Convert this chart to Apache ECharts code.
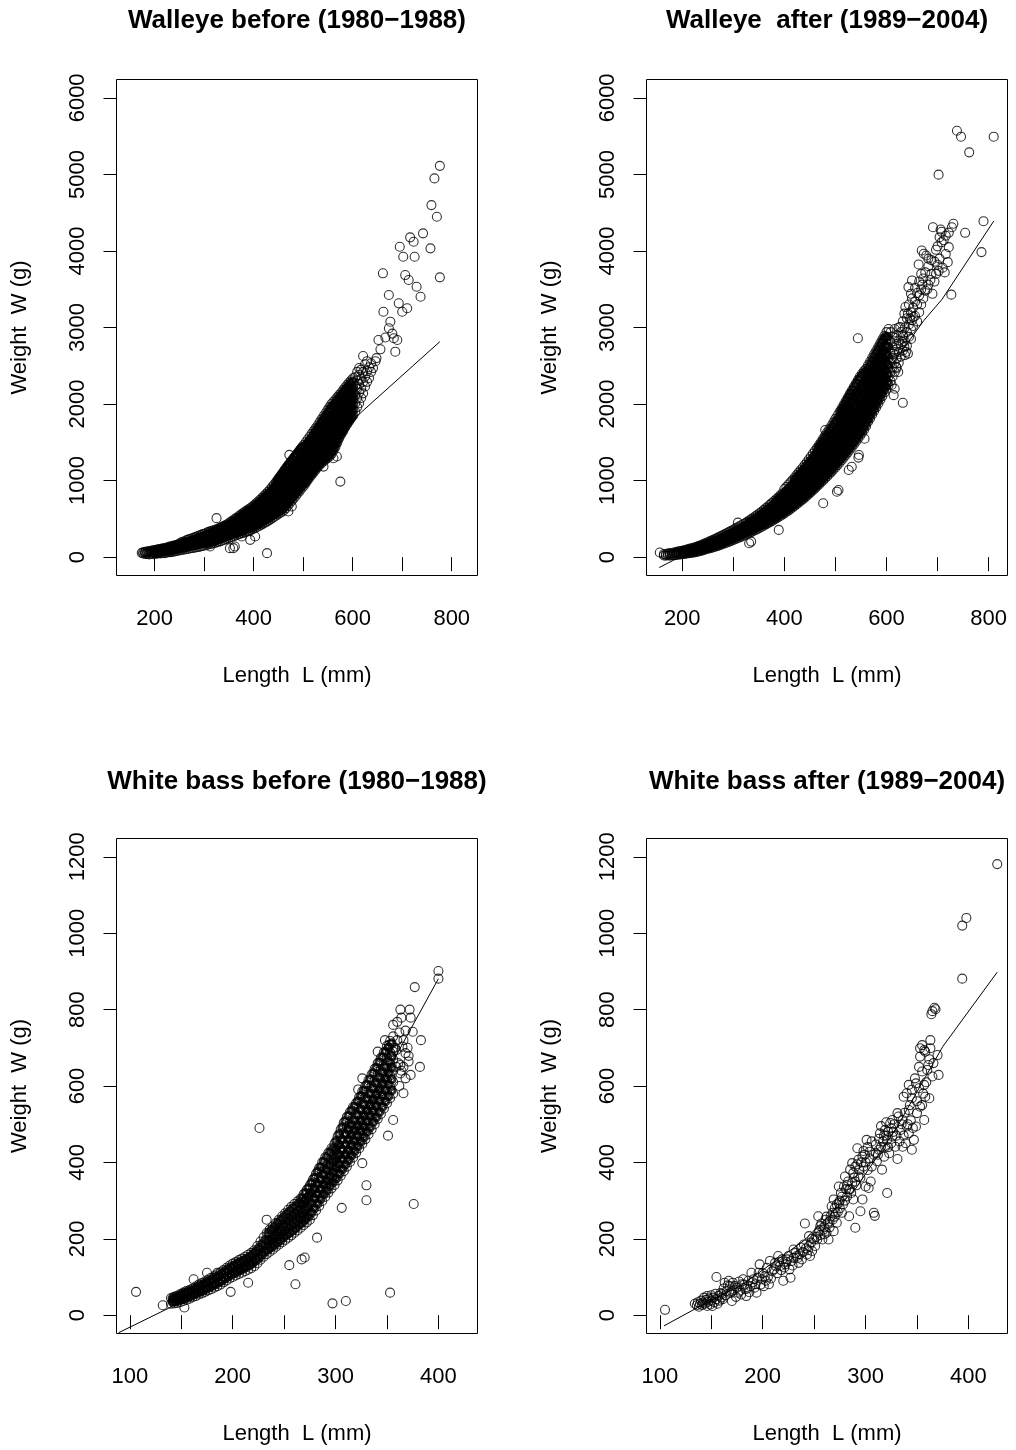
<!DOCTYPE html>
<html lang="en">
<head>
<meta charset="UTF-8">
<title>Length-weight: walleye and white bass</title>
<script src="https://cdn.jsdelivr.net/npm/echarts@6/dist/echarts.min.js"></script>
<style>html,body{margin:0;padding:0;background:#fff;}</style>
</head>
<body>
<div id="chart" style="width:1016px;height:1450px;"></div>
<script>
// each row: [length mm, weight g, weight g, ...]  (fish measured at about that length)
var walleyeBefore = [
  [174,56],[177,48,64],[181,42,60,70],[185,40,56,72],[189,36,58,78],[193,42,66,84],[197,38,60,88],
  [201,46,70,92],[205,44,74,98],[209,50,78,104],[213,48,84,110],[217,54,88,114],[221,52,92,118],
  [225,60,98,126],[229,64,104,134],[233,66,110,140],[237,72,116,148],[241,74,120,154],[245,80,128,162],
  [249,86,136,172],[253,90,142,190],[257,96,150,200],[261,100,156,208],[265,106,166,222],[269,110,172,232],
  [273,116,180,240],[277,120,190,250],[281,124,196,258],[285,130,204,268],[289,134,212,280],[293,140,220,290],
  [297,146,230,300],[301,152,200,254,306],[305,160,212,266,318],[309,166,222,276,330],[313,172,232,288,338],
  [317,178,240,298,346],[321,184,250,306,352],[325,192,258,316,362],[329,200,270,330,372],[333,208,280,340,386],
  [337,218,292,352,398],[341,228,302,366,408],[345,238,316,380,424],[349,248,328,394,440],[353,258,340,410,458],
  [357,266,350,424,476],[361,276,330,384,440,494],[365,286,342,398,456,512],[369,296,354,414,472,530],
  [373,306,366,428,488,550],[377,314,376,442,504,568],[381,324,388,456,520,586],[385,334,400,468,536,604],
  [389,342,410,480,552,620],[393,350,420,494,566,638],[397,362,434,508,582,656],
  [401,376,440,506,566,624,680],[405,388,456,522,584,646,704],[409,400,470,536,600,666,726],
  [413,414,484,552,620,688,750],[417,428,500,570,640,708,774],[421,444,516,590,662,732,800],
  [425,458,532,606,680,754,826],[429,474,550,626,702,778,854],[433,490,566,644,722,802,884],
  [437,506,584,664,744,828,914],[441,524,602,684,768,850,948],[445,540,620,704,788,874,920,982],
  [449,558,640,724,810,896,960,1018],[453,576,660,746,832,918,990,1052],[457,592,680,766,854,942,1020,1088],
  [461,610,698,788,876,966,1050,1124],[465,640,726,812,900,986,1074,1160],[469,672,758,842,930,1016,1104,1196],
  [473,704,788,874,960,1046,1134,1230],[477,736,820,904,990,1076,1164,1264],[481,768,850,934,1020,1106,1194,1296],
  [485,800,884,966,1050,1138,1226,1330],[489,834,916,1000,1084,1170,1258,1364],[493,866,950,1034,1118,1204,1290,1398],
  [497,900,982,1066,1150,1236,1324,1430],
  [501,930,1010,1090,1168,1246,1324,1400,1464],[505,966,1046,1124,1202,1280,1358,1436,1500],
  [509,1004,1082,1160,1238,1316,1394,1470,1536],[513,1040,1118,1196,1274,1352,1430,1506,1572],
  [517,1074,1152,1230,1310,1390,1470,1546,1610],[521,1108,1186,1266,1346,1426,1506,1584,1646],
  [525,1140,1220,1300,1380,1462,1542,1620,1682],[529,1172,1254,1336,1418,1500,1582,1660,1720],
  [533,1200,1284,1368,1452,1536,1620,1700,1760],[537,1226,1312,1398,1484,1570,1656,1740,1800],
  [541,1250,1338,1426,1514,1602,1690,1776,1840],[545,1272,1362,1452,1542,1632,1722,1810,1880],
  [549,1294,1386,1478,1570,1662,1754,1846,1920],[553,1316,1410,1504,1598,1692,1786,1880,1960],
  [557,1346,1440,1534,1628,1722,1816,1910,2000],[561,1390,1480,1570,1660,1750,1840,1930,2030],
  [565,1440,1526,1612,1698,1784,1870,1956,2060],[569,1500,1582,1664,1746,1828,1910,1992,2090],
  [573,1560,1636,1714,1792,1870,1948,2026,2120],[577,1610,1686,1762,1838,1914,1990,2070,2150],
  [581,1650,1726,1802,1878,1954,2030,2110,2185],[585,1700,1774,1848,1922,1996,2070,2146,2220],
  [589,1740,1812,1884,1956,2030,2104,2180,2250],[593,1780,1852,1924,1996,2068,2140,2212,2280],
  [597,1820,1890,1960,2030,2100,2170,2240,2310],[601,1850,1920,1990,2062,2134,2206,2278,2340],
  [605,1900,2010,2120,2230,2350],[609,1960,2080,2200,2310,2420],[613,2010,2150,2260,2380,2470],
  [617,2080,2200,2330,2450],[621,2140,2290,2420,2628],[625,2230,2360,2520],[629,2290,2430,2560],
  [633,2340,2480],[637,2420,2532],[641,2470],[646,2560],[648,2600],
  [652,2837],[656,2715],[661,3708],[662,3206],[666,2870],[673,3424,2990],[676,3076],[680,2920],
  [683,2859],[686,2684],[690,2837],[693,3316],[695,4055],[700,3206],[702,3924],[706,3685],[710,3251],
  [713,3620],[716,4178],[723,4120],[725,3924],[729,3532],[737,3402],[742,4230],[757,4034],[759,4599],
  [765,4948],[770,4447],[776,5112,3655],
  [312,139],[325,509],[352,117],[359,117],[362,139],[376,269],[393,226],[403,269],[427,52],
  [470,596],[477,661],[472,1336],[541,1183],[561,1292],[568,1314],[575,987]
];
// fish packed inside the solid black part of the cloud
var walleyeBeforeCore = [
  [199,52,78],[203,56,84],[207,60,88],[211,62,94],[215,66,100],[219,70,104],[223,76,110],[227,80,116],
  [231,84,124],[235,90,130],[239,96,136],[243,100,144],[247,106,152],[251,112,162],[255,118,172],
  [259,124,180],[263,130,190],[267,136,198],[271,142,208],[275,148,216],[279,154,224],[283,160,234],
  [287,166,244],[291,172,254],[295,180,264],[299,186,272],
  [303,180,228,282],[307,186,240,296],[311,194,250,306],[315,200,262,318],[319,208,272,328],[323,216,282,338],
  [327,226,292,350],[331,236,304,362],[335,246,316,374],[339,256,328,386],[343,266,342,400],[347,276,354,414],
  [351,286,368,430],[355,296,382,446],[359,304,396,462],[363,312,368,424,480],[367,322,382,440,498],
  [371,332,396,456,516],[375,340,408,472,536],[379,350,420,488,554],[383,360,432,502,570],[387,370,444,516,588],
  [391,378,456,530,604],[395,388,470,546,620],[399,400,484,560,640],
  [403,410,476,544,608,668],[407,424,490,560,626,688],[411,438,506,576,646,710],[415,452,522,594,666,734],
  [419,466,540,612,686,758],[423,482,556,630,706,782],[427,498,574,650,728,808],[431,514,592,670,750,836],
  [435,530,610,690,772,862],[439,546,628,712,796,892],[443,562,646,732,818,922],[447,580,664,752,840,944,990],
  [451,598,684,772,862,964,1030],[455,614,704,792,884,996,1064],[459,632,722,812,908,1030,1100],
  [463,660,748,836,932,1054,1140],[467,690,778,866,958,1082,1176],[471,722,808,896,986,1112,1210],
  [475,754,838,926,1016,1142,1246],[479,786,870,956,1046,1172,1276],[483,818,902,988,1078,1204,1310],
  [487,850,934,1020,1110,1236,1342],[491,882,966,1052,1142,1268,1376],[495,914,998,1084,1174,1300,1408],
  [499,946,1030,1116,1206,1330,1440],
  [503,966,1046,1126,1206,1284,1362,1440],[507,1002,1082,1160,1240,1318,1396,1474],
  [511,1040,1118,1196,1276,1354,1432,1508],[515,1076,1154,1232,1312,1390,1468,1544],
  [519,1110,1188,1268,1348,1428,1508,1580],[523,1144,1224,1304,1384,1464,1544,1620],
  [527,1176,1256,1338,1420,1500,1580,1660],[531,1206,1290,1372,1456,1538,1620,1700],
  [535,1234,1318,1404,1490,1574,1660,1740],[539,1260,1346,1432,1518,1606,1692,1780],
  [543,1284,1372,1460,1548,1636,1724,1820],[547,1306,1396,1486,1576,1666,1756,1860],
  [551,1328,1420,1512,1604,1696,1788,1900],[555,1352,1446,1540,1634,1728,1822,1940],
  [559,1386,1478,1570,1662,1754,1846,1976],[563,1432,1520,1608,1696,1784,1872,2000],
  [567,1484,1568,1652,1736,1820,1904,2040],[571,1540,1620,1702,1784,1866,1948,2070],
  [575,1596,1672,1750,1828,1906,1984,2100],[579,1640,1716,1792,1868,1944,2020,2130],
  [583,1684,1758,1834,1910,1986,2062,2170],[587,1730,1802,1876,1950,2024,2098,2200],
  [591,1770,1842,1914,1986,2058,2130,2230],[595,1806,1878,1950,2022,2094,2166,2260],
  [599,1840,1912,1984,2056,2128,2200,2290]
];
var walleyeAfter = [
  [156,60],[164,22,40],[168,18,36],[172,24,46],[176,20,40,54],[180,26,48],[184,24,42,60],[188,30,52,66],
  [192,32,56,72],[196,36,58,78],[200,38,62,84],[204,42,68,90],[208,46,72,96],[212,50,80,104],
  [216,54,86,112],[220,58,90,118],[224,62,96,126],[228,68,104,134],[232,74,112,144],[236,80,120,154],
  [240,88,128,164],[244,98,138,176],[248,106,148,188],[252,112,158,200],[256,120,168,212],[260,128,178,224],
  [264,136,188,236],[268,144,198,250],[272,154,210,262],[276,162,222,276],[280,172,234,288],[284,182,244,300],
  [288,192,256,316],[292,202,270,330],[296,212,282,344],[300,224,292,358],[304,234,304,372],[308,246,318,388],
  [312,258,330,402],[316,268,342,416],[320,282,354,432],[324,294,366,446],
  [328,306,362,418,464],[332,318,376,434,482],[336,330,390,450,500],[340,344,404,466,518],
  [344,356,418,484,536],[348,370,432,500,556],[352,384,448,518,576],[356,398,464,536,596],
  [360,414,480,554,618],[364,428,496,572,640],[368,444,512,590,662],[372,458,530,610,686],
  [376,474,548,630,708],[380,490,566,650,732],[384,506,580,650,716,756],[388,522,596,668,736,780],
  [392,538,612,688,760,806],[396,556,630,708,782,832],
  [400,570,652,728,812,890],[404,594,668,750,836,918],[408,608,690,770,858,948],[412,630,706,794,880,976],
  [416,648,732,816,906,1006],[420,668,748,832,918,1000,1040],[424,692,770,856,944,1028,1072],
  [428,710,794,880,966,1054,1104],[432,734,816,902,990,1078,1136],[436,754,840,928,1016,1104,1170],
  [440,778,862,950,1040,1128,1206],[444,800,888,976,1066,1154,1240],[448,826,910,1000,1090,1182,1278],
  [452,848,936,1026,1118,1210,1314],[456,874,962,1054,1146,1240,1352],[460,898,988,1080,1174,1270,1390],
  [464,926,1016,1108,1202,1298,1428],[468,950,1042,1136,1232,1330,1400,1468],
  [472,978,1070,1164,1262,1360,1440,1508],[476,1002,1096,1192,1290,1390,1476,1548],
  [480,1030,1124,1220,1318,1418,1510,1590],[484,1058,1152,1250,1350,1450,1546,1632],
  [488,1086,1182,1280,1380,1480,1580,1674],[492,1114,1210,1310,1410,1512,1614,1716],
  [496,1144,1240,1340,1442,1544,1650,1760],[500,1172,1270,1370,1472,1576,1684,1806],
  [504,1202,1300,1400,1504,1608,1716,1850],[508,1234,1330,1432,1536,1640,1750,1896],
  [512,1266,1364,1464,1568,1674,1784,1870,1942],[516,1298,1396,1498,1602,1708,1816,1906,1988],
  [520,1332,1430,1532,1636,1742,1850,1944,2036],[524,1366,1464,1566,1670,1776,1884,1984,2082],
  [528,1400,1498,1600,1704,1810,1918,2024,2130],[532,1436,1534,1636,1740,1846,1954,2064,2176],
  [536,1472,1570,1672,1776,1882,1990,2100,2222],[540,1508,1606,1708,1812,1918,2026,2136,2268],
  [544,1546,1644,1746,1850,1956,2064,2174,2314],[548,1584,1682,1784,1888,1994,2102,2212,2360],
  [552,1622,1720,1822,1926,2032,2140,2250,2396],[556,1662,1760,1862,1966,2070,2176,2284,2430],
  [560,1710,1806,1906,2008,2112,2218,2326,2460],[564,1768,1862,1960,2060,2162,2266,2372,2508],
  [568,1816,1910,2008,2108,2210,2314,2420,2556],[572,1864,1958,2056,2156,2258,2362,2468,2604],
  [576,1912,2006,2104,2204,2306,2410,2516,2652],[580,1960,2054,2152,2252,2354,2458,2564,2700],
  [584,2008,2102,2200,2300,2402,2506,2612,2748],[588,2056,2150,2248,2348,2450,2554,2660,2796],
  [592,2104,2198,2296,2396,2498,2602,2708,2844],[596,2152,2246,2344,2444,2546,2650,2756,2892],
  [600,2200,2300,2410,2520,2630,2740,2850,2940],[604,2250,2360,2480,2600,2720,2840,2980],
  [608,2300,2420,2540,2660,2800,2940],[612,2360,2480,2600,2740,2880],[616,2420,2540,2680,2820,2980],
  [620,2470,2600,2760,2900],[624,2540,2680,2830,3000],
  [628,2620,2780],[632,2700,2900,3080],[636,2640,2820,3000],[640,2760,2940,3120],[644,2880,3040,3300],
  [648,2980,3200,3440],[652,3020,3260],[656,3150,3340,3520],[660,3080,3300],[664,3200,3420,3600],
  [668,3300,3500,3700],[672,3380,3640],[676,3480,3720],[682,3560,3800,3900],[688,3700,3880],
  [694,3600,3860],[700,3820,4060],[704,3900,4180],[716,3960,4200],[722,4050,4240],
  [613,2659],[619,2485],[623,2419],[627,3007],[629,2942],[631,2812],[633,2877],[635,2746,3181],
  [637,3267],[638,2681],[642,2659,3181],[646,3116],[648,2851],[650,3094,3380,3615],[653,3137],
  [643,3528],[660,3450],[663,3824],[669,4006],[673,3963],[678,3941],[670,3560],[680,3500],
  [686,3620],[690,3440],[691,4310],[697,4015,3700],[702,4997,3740],[706,4280],[708,4250,4115],
  [710,3780],[712,4140],[714,3720],[720,3854],[727,3429],[728,4310],[731,4355],[738,5571],
  [746,5493],[754,4237],[762,5288],[786,3985],[790,4389],[810,5493],
  [309,451],[331,182],[335,203],[389,356],[476,704],[480,1660],[503,855],[506,877],[526,1138],
  [532,1181],[545,1300],[546,1334],[557,1547],[544,2860],[555,2399],[610,2250],[614,2116],[616,2200],[632,2016]
];
var walleyeAfterCore = [
  [202,50,76],[206,54,82],[210,58,88],[214,62,94],[218,66,100],[222,72,108],[226,78,116],[230,84,124],
  [234,90,134],[238,98,142],[242,106,152],[246,116,164],[250,124,174],[254,132,186],[258,140,196],
  [262,148,206],[266,158,218],[270,166,230],[274,176,240],[278,186,254],[282,196,266],[286,206,278],
  [290,218,292],[294,228,306],[298,240,318],[302,250,330],[306,262,344],[310,274,358],[314,286,372],
  [318,298,386],[322,312,400],[326,324,414],[330,334,390,446],[334,346,404,462],[338,360,418,478],
  [342,372,432,494],[346,386,448,512],[350,400,464,532],[354,414,480,552],[358,428,498,572],
  [362,442,514,592],[366,456,532,612],[370,472,550,634],[374,488,568,656],[378,502,586,678],
  [382,518,604,700],[386,534,620,692,740],[390,550,638,712,766],[394,566,656,732,792],[398,584,676,752,820],
  [402,604,690,772,852],[406,622,710,792,878],[410,640,730,814,904],[414,660,752,838,930],
  [418,680,774,862,958],[422,700,792,876,960,1020],[426,720,812,898,986,1050],[430,742,834,922,1012,1080],
  [434,764,856,946,1038,1112],[438,786,878,970,1062,1146],[442,808,902,996,1090,1180],
  [446,832,926,1020,1116,1212],[450,856,950,1046,1142,1246],[454,880,976,1072,1170,1280],
  [458,906,1002,1100,1198,1318],[462,932,1030,1128,1228,1352],[466,960,1058,1158,1258,1366,1420],
  [470,988,1086,1186,1288,1396,1460],[474,1016,1116,1216,1318,1426,1500],[478,1044,1144,1246,1350,1456,1540],
  [482,1072,1174,1276,1380,1488,1580],[486,1100,1204,1308,1412,1520,1620],[490,1130,1234,1340,1446,1554,1660],
  [494,1160,1264,1372,1480,1588,1700],[498,1190,1296,1404,1514,1624,1744],[502,1220,1326,1436,1546,1660,1780],
  [506,1250,1356,1468,1580,1694,1820],[510,1282,1388,1500,1614,1728,1836,1900],
  [514,1314,1420,1532,1646,1762,1872,1940],[518,1346,1454,1566,1680,1796,1910,1990],
  [522,1380,1488,1600,1714,1830,1948,2040],[526,1414,1522,1634,1748,1864,1984,2090],
  [530,1450,1558,1670,1784,1900,2020,2136],[534,1486,1594,1706,1820,1936,2056,2180],
  [538,1522,1630,1742,1856,1972,2092,2226],[542,1560,1668,1780,1894,2010,2130,2270],
  [546,1598,1706,1818,1932,2048,2168,2316],[550,1636,1744,1856,1970,2086,2206,2350],
  [554,1676,1784,1896,2010,2124,2240,2380],[558,1720,1830,1940,2050,2160,2272,2410],
  [562,1776,1884,1992,2100,2210,2320,2440],[566,1826,1932,2040,2148,2256,2366,2490],
  [570,1876,1982,2088,2196,2304,2414,2540],[574,1926,2030,2136,2244,2352,2462,2590],
  [578,1976,2080,2186,2292,2400,2510,2640],[582,2026,2130,2236,2342,2450,2560,2690],
  [586,2076,2180,2286,2392,2500,2610,2740],[590,2126,2230,2336,2442,2550,2660,2790],
  [594,2176,2280,2386,2492,2600,2710,2840],[598,2226,2330,2436,2542,2650,2760,2880],
  [602,2276,2390,2510,2630,2750,2880]
];
var bassBefore = [
  [140,30,45],[143,31,40,48],[146,32,42,51],[149,34,45,55],[152,37,48,59],[155,40,52,63],[158,43,55,66],
  [161,47,58,70],[164,50,62,75],[167,54,67,80],[170,57,70,84],[173,61,74,88],[176,65,79,93],[179,68,83,98],
  [182,72,87,102],[185,76,92,107],[188,80,96,112],[191,86,102,118],[194,91,108,124],[197,96,113,130],
  [200,100,118,135],[203,104,122,139],[206,108,126,144],[209,111,130,148],[212,115,134,153],[215,119,139,158],
  [218,123,143,163],[221,128,149,170],[224,136,158,181],[227,145,168,193],[230,153,177,204],[233,160,187,215],
  [236,166,186,206,224],[239,172,192,212,232],[242,179,199,220,241],[245,185,207,228,250],[248,191,214,236,259],
  [251,197,220,244,267],[254,203,227,252,276],[257,209,234,259,284],[260,216,241,266,291],[263,222,247,273,298],
  [266,229,254,280,305],[269,236,256,276,296,317],[272,243,264,285,306,328],[275,250,272,295,318,340],
  [278,262,285,308,332,355],[281,274,298,322,346,370],[284,286,311,336,360,385],[287,299,324,350,375,400],
  [290,310,336,362,388,413],[293,321,347,373,399,425],[296,332,358,384,411,437],[299,341,368,395,422,449],
  [302,353,376,399,422,445,468],[305,365,389,413,437,461,486],[308,377,402,427,452,478,504],
  [311,389,415,441,467,493,519],[314,401,427,453,479,505,532],[317,413,440,466,492,518,545],
  [320,425,451,477,503,529,555],[323,437,464,491,518,545,571],[326,449,476,504,531,559,586],
  [329,461,489,517,545,572,600],[332,474,502,530,559,587,615],[335,487,516,544,573,601,630],
  [338,500,529,558,587,616,645],[341,514,543,572,601,630,660],[344,527,556,586,615,645,674],
  [347,541,570,600,629,659,688],[350,555,585,615,645,675,705],[353,568,598,628,658,688,718],
  [356,580,610,640,670,700,730],
  [358,700],[359,694,650],[360,720,768],[361,660],[362,600,740],[363,800,633,655],[364,779,640],[365,703],
  [366,581,650,720],[368,686,620,745],[370,700],[371,664,679],[372,800],[373,779,629],[375,742],
  [377,859],[382,650],[383,720],[400,901,881],[352,708],[356,690,760,511],[341,690],[348,720],
  [106,61],[132,26],[142,37],[153,20],[162,94],[175,111],[181,85],[185,111],[188,94],[196,111],[198,61],
  [215,85],[226,490],[233,250],[255,131],[261,81],[267,146],[270,151],[282,203],[297,31],[306,281],[310,37],
  [322,591],[326,398,620],[330,340,301],[351,470],[353,59],[376,291]
];
var bassBeforeCore = [
  [141.5,35,44],[144.5,36,47],[147.5,38,50],[150.5,41,54],[153.5,44,58],[156.5,47,61],[159.5,50,64],
  [162.5,54,68],[165.5,58,73],[168.5,61,77],[171.5,65,81],[174.5,69,86],[177.5,73,90],[180.5,77,95],
  [183.5,81,99],[186.5,86,104],[189.5,90,109],[192.5,96,115],[195.5,101,121],[198.5,106,126],
  [201.5,110,130],[204.5,114,135],[207.5,118,139],[210.5,122,143],[213.5,126,148],[216.5,131,153],
  [219.5,136,159],[222.5,143,167],[225.5,150,176],[228.5,158,186],[231.5,166,196],[234.5,172,196,214],
  [237.5,178,200,222],[240.5,184,208,230],[243.5,190,216,240],[246.5,196,222,248],[249.5,204,230,256],
  [252.5,210,236,264],[255.5,216,244,272],[258.5,222,250,280],[261.5,228,258,286],[264.5,236,264,294],
  [267.5,242,266,290,306],[270.5,250,276,300,320],[273.5,258,284,310,332],[276.5,268,294,320,346],
  [279.5,280,306,332,360],[282.5,292,318,344,376],[285.5,304,330,356,388],[288.5,316,342,368,402],
  [291.5,326,352,380,414],[294.5,338,364,392,426],[297.5,348,374,402,436],[300.5,358,386,410,434,456],
  [303.5,370,396,420,446,474],[306.5,382,408,434,460,492],[309.5,394,420,446,474,508],
  [312.5,406,432,460,486,522],[315.5,418,444,472,498,536],[318.5,430,456,484,510,546],
  [321.5,442,470,496,524,560],[324.5,454,482,510,538,574],[327.5,466,494,522,552,588],
  [330.5,480,508,536,566,604],[333.5,492,522,550,580,618],[336.5,506,534,564,594,634],
  [339.5,518,548,578,608,648],[342.5,532,562,592,622,662],[345.5,546,576,606,636,676],
  [348.5,560,590,620,650,690],[351.5,574,604,634,664,700],[354.5,588,618,648,678,712]
];
var bassAfter = [
  [105,14],[134,30],[136,26],[137,34],[138,22],[139,30],[140,38],[141,27],[142,33],[143,46],[144,30],
  [145,40],[146,24,50],[147,35],[148,44],[149,28],[150,52,38],[151,24],[152,46],[153,34],[154,56],
  [155,100,42],[156,30],[157,50],[158,38],[159,58],[160,46,55],[161,42],[162,70],[163,85],[164,52],
  [165,63],[166,78],[167,90],[168,76],[169,58],[170,63,37],[171,85],[172,66],[173,76],[174,48],[175,72],
  [176,59],[177,88],[178,64],[179,54],[180,81],[181,94],[182,80],[183,68],[184,50],[185,70],[186,90],
  [187,60],[188,76],[189,111],[190,86],[191,94],[192,72],[193,81],[194,59],[195,98],[196,111],[197,133],
  [198,80],[199,94],[200,110],[201,76],[202,102],[203,90],[204,124],[205,100],[206,81],[207,142],
  [208,96],[209,115],[211,120],[212,137],[213,128],[214,110],[215,155],[216,140],[217,129],[218,118],
  [219,146],[220,90],[221,125],[222,133],[223,140],[224,146],[225,155],[226,120],[227,98],[228,142],
  [229,130],[230,172,150],[232,163],[233,155],[234,150],[235,137],[236,160],[237,177],[238,146],[239,165],
  [240,185],[241,240],[242,175],[243,159],[244,170],[245,181,207],[246,155],[247,190],[248,168,200],
  [250,198],[251,181],[252,205],[253,198],[254,216,259],[255,222],[256,233,210],[257,240],[258,198],
  [259,224],[260,230,212],[261,250],[262,216,258],[263,240],[264,198],[265,230,245],[266,259],[267,285],
  [268,250,268],[269,303,220],[270,280,258],[271,268],[272,242,290],[273,270],[274,294,337],[275,300,280],
  [276,320],[277,268,310],[278,290],[279,337],[280,363,300],[281,330],[282,311,340],[283,350],
  [284,259,329],[285,381,330],[286,320],[287,346,398],[288,303,372],[289,360],[290,229,389,350],[291,340],
  [292,437,395],[293,363,407],[294,380],[295,272,360],[296,400],[297,415,303],[298,389,430],[299,420],
  [300,337,400],[301,459],[302,380,440],[303,333],[304,410,428],[305,350],[306,389,455],[308,268,420],
  [309,260],[310,424,447],[311,403],[312,420],[313,433,462],[314,476],[315,440,495],[316,381],[317,455],
  [318,415,470],[319,441,485],[320,470,505],[321,320,459],[322,440,480],[323,424],[324,503],[325,450,490],
  [326,468,511],[327,480],[328,500],[329,441],[330,470],[331,409,529],[332,520],[333,455],[334,485],
  [335,500],[336,441,511],[337,470,572],[338,530],[339,450],[340,494,581],[341,500],[342,476,537,603],
  [343,550],[344,510],[345,433,590,568],[346,490],[347,459],[348,620],[349,494,607],[350,529,560],
  [352,594,650],[353,546,699,677],[355,550,638,707],[356,580],[357,511,603,694],[358,572,690],[359,610],
  [360,642],[361,655],[362,670,568],[363,699,720],[364,788],[365,625,796],[366,660],[367,805],[368,801],
  [370,681],[371,629],[394,881,1020],[398,1040],[428,1181]
];

// fitted curves
var walleyeBeforeFit = [[176,20],[250,120],[320,280],[400,560],[480,1000],[540,1380],[615,1880],[776,2815]];
var walleyeAfterFit = [[155,-136],[183,-40],[250,140],[320,380],[400,740],[480,1290],[560,1980],[620,2600],[673,3090],[709,3370],[810,4390]];
var bassBeforeFit = [[89,-46],[139,20],[200,115],[250,225],[300,395],[340,580],[361,690],[400,881]];
var bassAfterFit = [[104,-28],[134,16],[180,80],[240,195],[290,330],[330,490],[375,703],[428,898]];

var panelTitles = ['Walleye before (1980\u22121988)', 'Walleye  after (1989\u22122004)',
                   'White bass before (1980\u22121988)', 'White bass after (1989\u22122004)'];
var walleyeTicksX = [200, 300, 400, 500, 600, 700, 800];
var walleyeLabelsX = [200, 400, 600, 800];
var walleyeTicksY = [0, 1000, 2000, 3000, 4000, 5000, 6000];
var bassTicksX = [100, 150, 200, 250, 300, 350, 400];
var bassLabelsX = [100, 200, 300, 400];
var bassTicksY = [0, 200, 400, 600, 800, 1000, 1200];

var FONT = 'Liberation Sans, Arial, Helvetica, sans-serif';

function toPoints(rows) {
    var pts = [];
    rows.forEach(function (r) {
        for (var i = 1; i < r.length; i++) pts.push([r[0], r[i]]);
    });
    return pts;
}
function plain(v) { return String(v); }

var chart = echarts.init(document.getElementById('chart'), null, {renderer: 'canvas'});

var boxes = [
    {left: 116.5, top: 79.5, width: 361, height: 496},
    {left: 646.5, top: 79.5, width: 361, height: 496},
    {left: 116.5, top: 838.5, width: 361, height: 495},
    {left: 646.5, top: 838.5, width: 361, height: 495}
];
var xRange = [[123, 852], [130, 837], [87, 438], [87, 438]];
var yRange = [[-240, 6240], [-240, 6240], [-48, 1248], [-48, 1248]];
var titleCenter = [[297, 8], [827, 8], [297, 769], [827, 769]];
var rows = [walleyeBefore, walleyeAfter, bassBefore, bassAfter];
var cores = [walleyeBeforeCore, walleyeAfterCore, bassBeforeCore, []];
var fits = [walleyeBeforeFit, walleyeAfterFit, bassBeforeFit, bassAfterFit];

var grids = [], xAxes = [], yAxes = [], series = [], titles = [];
for (var i = 0; i < 4; i++) {
    var walleye = i < 2;
    grids.push({
        left: boxes[i].left, top: boxes[i].top, width: boxes[i].width, height: boxes[i].height,
        show: true, borderColor: '#000', borderWidth: 1, backgroundColor: 'transparent'
    });
    xAxes.push({
        type: 'value', gridIndex: i, min: xRange[i][0], max: xRange[i][1],
        name: 'Length  L (mm)', nameLocation: 'middle', nameGap: 89,
        nameTextStyle: {fontSize: 22, color: '#000', fontFamily: FONT},
        axisLine: {show: false},
        axisTick: {show: true, length: 14, customValues: walleye ? walleyeTicksX : bassTicksX,
                   lineStyle: {color: '#000', width: 1}},
        axisLabel: {customValues: walleye ? walleyeLabelsX : bassLabelsX, formatter: plain,
                    fontSize: 22, color: '#000', margin: 32, fontFamily: FONT},
        splitLine: {show: false}
    });
    yAxes.push({
        type: 'value', gridIndex: i, min: yRange[i][0], max: yRange[i][1],
        name: 'Weight  W (g)', nameLocation: 'middle', nameGap: 86, nameRotate: 90,
        nameTextStyle: {fontSize: 22, color: '#000', fontFamily: FONT},
        axisLine: {show: false},
        axisTick: {show: true, length: 13, customValues: walleye ? walleyeTicksY : bassTicksY,
                   lineStyle: {color: '#000', width: 1}},
        axisLabel: {customValues: walleye ? walleyeTicksY : bassTicksY, rotate: 90, formatter: plain,
                    fontSize: 22, color: '#000', margin: 28, fontFamily: FONT},
        splitLine: {show: false}
    });
    series.push({
        type: 'scatter', xAxisIndex: i, yAxisIndex: i, data: toPoints(cores[i]),
        symbol: 'circle', symbolSize: 7, silent: true, progressive: 0,
        itemStyle: {color: 'rgba(0,0,0,0)', borderColor: '#000', borderWidth: 3}
    });
    series.push({
        type: 'scatter', xAxisIndex: i, yAxisIndex: i, data: toPoints(rows[i]),
        symbol: 'circle', symbolSize: 9, silent: true, progressive: 0,
        itemStyle: {color: 'rgba(0,0,0,0)', borderColor: '#000', borderWidth: 1.1}
    });
    series.push({
        type: 'line', xAxisIndex: i, yAxisIndex: i, data: fits[i],
        showSymbol: false, symbol: 'none', silent: true, z: 5,
        lineStyle: {color: '#000', width: 1}
    });
    titles.push({
        text: panelTitles[i], left: titleCenter[i][0], top: titleCenter[i][1],
        textAlign: 'center', textVerticalAlign: 'top', padding: 0,
        textStyle: {fontSize: 26, fontWeight: 'bold', color: '#000', fontFamily: FONT}
    });
}

chart.setOption({
    animation: false,
    backgroundColor: '#fff',
    title: titles,
    grid: grids,
    xAxis: xAxes,
    yAxis: yAxes,
    series: series
});
</script>
</body>
</html>
